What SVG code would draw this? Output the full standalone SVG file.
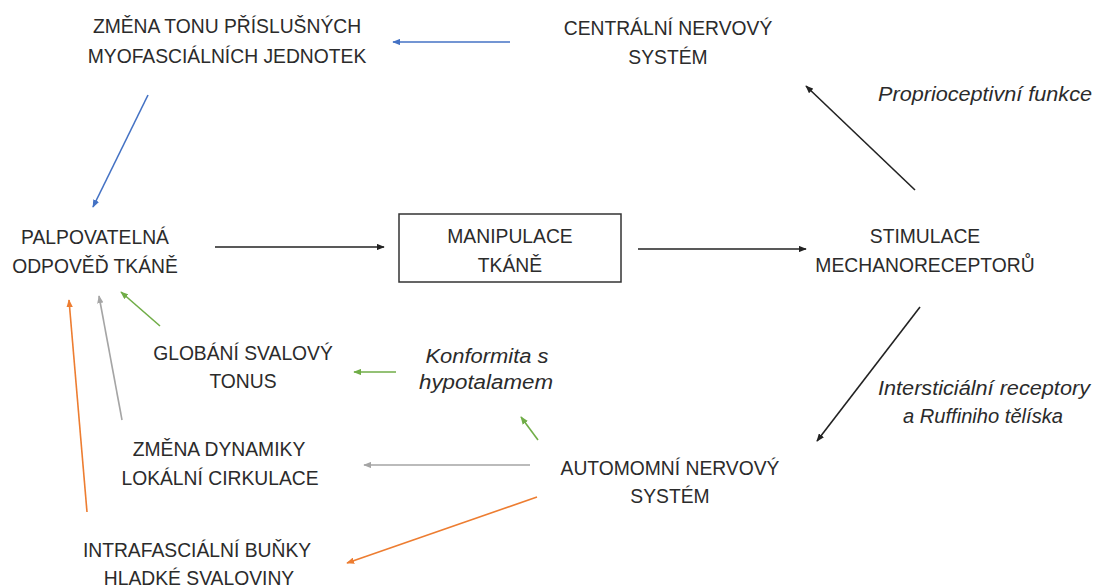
<svg xmlns="http://www.w3.org/2000/svg" width="1097" height="587" viewBox="0 0 1097 587">
<style>
.t{font-family:"Liberation Sans",Arial,sans-serif;font-size:19.3px;fill:#2b2b2b;text-anchor:middle}
.i{font-style:italic;font-size:19.5px}
.c{fill:none;stroke-width:1.6}
.k{stroke:#222}
.b{stroke:#4472C4}
.g{stroke:#70AD47}
.o{stroke:#ED7D31}
.y{stroke:#A5A5A5}
</style>
<defs>
<marker id="mk" viewBox="0 0 10 8" refX="9" refY="4" markerWidth="8" markerHeight="6.5" markerUnits="userSpaceOnUse" orient="auto"><path d="M0,0 L10,4 L0,8 Z" fill="#222"/></marker>
<marker id="mb" viewBox="0 0 10 8" refX="9" refY="4" markerWidth="8" markerHeight="6.5" markerUnits="userSpaceOnUse" orient="auto"><path d="M0,0 L10,4 L0,8 Z" fill="#4472C4"/></marker>
<marker id="mg" viewBox="0 0 10 8" refX="9" refY="4" markerWidth="8" markerHeight="6.5" markerUnits="userSpaceOnUse" orient="auto"><path d="M0,0 L10,4 L0,8 Z" fill="#70AD47"/></marker>
<marker id="mo" viewBox="0 0 10 8" refX="9" refY="4" markerWidth="8" markerHeight="6.5" markerUnits="userSpaceOnUse" orient="auto"><path d="M0,0 L10,4 L0,8 Z" fill="#ED7D31"/></marker>
<marker id="my" viewBox="0 0 10 8" refX="9" refY="4" markerWidth="8" markerHeight="6.5" markerUnits="userSpaceOnUse" orient="auto"><path d="M0,0 L10,4 L0,8 Z" fill="#A5A5A5"/></marker>
</defs>
<rect width="1097" height="587" fill="#fff"/>
<g id="n-zmena-tonu"><text class="t" x="227" y="33">ZMĚNA TONU PŘÍSLUŠNÝCH</text><text class="t" x="227" y="63">MYOFASCIÁLNÍCH JEDNOTEK</text></g>
<g id="n-cns"><text class="t" x="668" y="35">CENTRÁLNÍ NERVOVÝ</text><text class="t" x="668" y="64">SYSTÉM</text></g>
<g id="l-proprio"><text class="t i" x="985" y="101" textLength="214" lengthAdjust="spacingAndGlyphs">Proprioceptivní funkce</text></g>
<g id="n-palpo"><text class="t" x="95" y="244">PALPOVATELNÁ</text><text class="t" x="95" y="273">ODPOVĚĎ TKÁNĚ</text></g>
<g id="n-manip"><rect x="399" y="214" width="222" height="68" fill="#fff" stroke="#333" stroke-width="1.5"/><text class="t" x="510" y="243">MANIPULACE</text><text class="t" x="510" y="272">TKÁNĚ</text></g>
<g id="n-stim"><text class="t" x="925" y="243">STIMULACE</text><text class="t" x="925" y="272">MECHANORECEPTORŮ</text></g>
<g id="n-glob"><text class="t" x="243" y="360">GLOBÁNÍ SVALOVÝ</text><text class="t" x="243" y="388">TONUS</text></g>
<g id="l-konf"><text class="t i" x="487" y="363" textLength="123" lengthAdjust="spacingAndGlyphs">Konformita s</text><text class="t i" x="486" y="389" textLength="134" lengthAdjust="spacingAndGlyphs">hypotalamem</text></g>
<g id="l-inter"><text class="t i" x="984" y="395" textLength="212" lengthAdjust="spacingAndGlyphs">Intersticiální receptory</text><text class="t i" x="983" y="423" textLength="160" lengthAdjust="spacingAndGlyphs">a Ruffiniho tělíska</text></g>
<g id="n-dyn"><text class="t" x="219" y="456">ZMĚNA DYNAMIKY</text><text class="t" x="220" y="485">LOKÁLNÍ CIRKULACE</text></g>
<g id="n-ans"><text class="t" x="670" y="475">AUTOMOMNÍ NERVOVÝ</text><text class="t" x="670" y="503">SYSTÉM</text></g>
<g id="n-intra"><text class="t" x="197" y="557">INTRAFASCIÁLNÍ BUŇKY</text><text class="t" x="199" y="585">HLADKÉ SVALOVINY</text></g>
<g id="connectors">
<line class="c b" x1="510" y1="42" x2="393" y2="42" marker-end="url(#mb)"/>
<line class="c b" x1="148" y1="95" x2="93" y2="207" marker-end="url(#mb)"/>
<line class="c k" x1="915" y1="190" x2="806" y2="86" marker-end="url(#mk)"/>
<line class="c k" x1="215" y1="247" x2="384" y2="247" marker-end="url(#mk)"/>
<line class="c k" x1="638" y1="249" x2="806" y2="249" marker-end="url(#mk)"/>
<line class="c k" x1="920" y1="307" x2="817" y2="441" marker-end="url(#mk)"/>
<line class="c g" x1="160" y1="326" x2="121" y2="292" marker-end="url(#mg)"/>
<line class="c g" x1="396" y1="372" x2="354" y2="372" marker-end="url(#mg)"/>
<line class="c g" x1="538" y1="440" x2="521" y2="417" marker-end="url(#mg)"/>
<line class="c y" x1="122" y1="420" x2="99" y2="296" marker-end="url(#my)"/>
<line class="c y" x1="530" y1="465" x2="364" y2="465" marker-end="url(#my)"/>
<line class="c o" x1="87" y1="512" x2="69" y2="300" marker-end="url(#mo)"/>
<line class="c o" x1="537" y1="497" x2="347" y2="563" marker-end="url(#mo)"/>
</g>
</svg>
